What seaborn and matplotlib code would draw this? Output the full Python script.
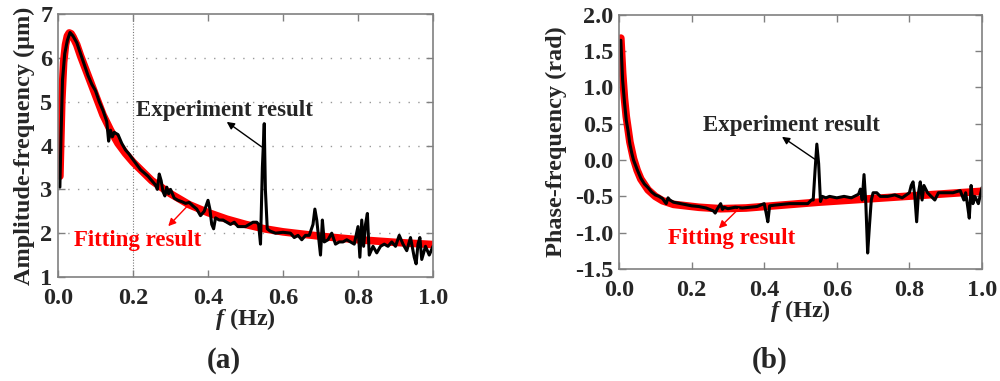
import matplotlib
matplotlib.use("Agg")
import matplotlib.pyplot as plt
import numpy as np
import pandas as pd
import seaborn as sns

# ---- panel (a): amplitude-frequency ----
amp_fit_f = [0.005, 0.01, 0.015, 0.02, 0.025, 0.03, 0.035, 0.04, 0.05, 0.06, 0.08,
             0.1, 0.12, 0.14, 0.16, 0.18, 0.2, 0.25, 0.3, 0.35, 0.4, 0.45, 0.5,
             0.55, 0.6, 0.7, 0.8, 0.9, 1.0]
amp_fit = [3.3, 5.0, 5.9, 6.3, 6.5, 6.57, 6.55, 6.48, 6.3, 6.05, 5.6,
           5.15, 4.7, 4.35, 4.05, 3.82, 3.62, 3.2, 2.9, 2.65, 2.47, 2.32, 2.2,
           2.1, 2.03, 1.93, 1.85, 1.79, 1.74]

amp_exp_f = [0.005, 0.008, 0.012, 0.018, 0.025, 0.032, 0.04, 0.05, 0.06, 0.07, 0.08,
             0.09, 0.1, 0.11, 0.12, 0.13, 0.135, 0.14, 0.145, 0.15, 0.16, 0.17,
             0.18, 0.19, 0.2, 0.22, 0.24, 0.26, 0.265, 0.27, 0.275, 0.28, 0.285,
             0.29, 0.295, 0.3, 0.31, 0.32, 0.33, 0.34, 0.35, 0.36, 0.37, 0.38,
             0.39, 0.4, 0.405, 0.41, 0.415, 0.42, 0.43, 0.44, 0.45, 0.46, 0.47,
             0.48, 0.49, 0.5, 0.51, 0.52, 0.53, 0.535, 0.54, 0.545, 0.55, 0.553,
             0.558, 0.565, 0.58, 0.6, 0.62, 0.63, 0.64, 0.65, 0.66, 0.67, 0.68,
             0.685, 0.69, 0.695, 0.7, 0.705, 0.71, 0.72, 0.73, 0.74, 0.75, 0.76,
             0.77, 0.78, 0.79, 0.8, 0.805, 0.81, 0.815, 0.82, 0.825, 0.83, 0.84,
             0.85, 0.86, 0.87, 0.88, 0.89, 0.9, 0.91, 0.92, 0.93, 0.94, 0.95,
             0.955, 0.96, 0.965, 0.97, 0.98, 0.99, 1.0]
amp_exp = [3.05, 4.2, 5.5, 6.1, 6.4, 6.58, 6.5, 6.35, 6.1, 5.85, 5.6,
           5.4, 5.25, 5.0, 4.8, 4.55, 4.1, 4.35, 4.2, 4.3, 4.25, 4.05,
           3.9, 3.8, 3.68, 3.45, 3.3, 3.1, 3.0, 3.35, 3.2, 2.95, 2.85,
           3.05, 2.9, 3.0, 2.8, 2.75, 2.72, 2.68, 2.7, 2.62, 2.55, 2.4,
           2.5, 2.75, 2.55, 2.2, 2.1, 2.35, 2.3, 2.3, 2.25, 2.2, 2.25,
           2.15, 2.15, 2.15, 2.2, 2.25, 2.25, 2.2, 1.75, 3.5, 4.5, 3.0,
           2.1, 2.05, 2.0, 2.02, 2.0, 1.9, 1.95, 1.85, 1.95, 1.95, 2.2,
           2.55, 2.3, 1.9, 1.5, 2.3, 1.8, 1.85, 2.0, 1.75, 1.8, 1.8,
           1.85, 1.8, 1.75, 2.15, 1.45, 2.3, 1.7, 2.2, 2.45, 1.5, 1.7,
           1.55, 1.7, 1.75, 1.7, 1.8, 1.7, 1.95, 1.75, 1.6, 1.9, 1.45,
           1.3, 1.75, 1.9, 1.4, 1.7, 1.5, 1.7]

# ---- panel (b): phase-frequency ----
ph_fit_f = [0.005, 0.01, 0.015, 0.02, 0.03, 0.04, 0.05, 0.06, 0.08, 0.1, 0.12,
            0.15, 0.22, 0.28, 0.35, 0.45, 0.55, 0.7, 0.85, 1.0]
ph_fit = [1.68, 1.2, 0.85, 0.6, 0.25, 0.02, -0.14, -0.26, -0.41, -0.5, -0.56,
          -0.61, -0.65, -0.67, -0.66, -0.62, -0.58, -0.53, -0.48, -0.43]

ph_exp_f = [0.005, 0.01, 0.015, 0.02, 0.025, 0.03, 0.035, 0.04, 0.05, 0.06, 0.07,
            0.08, 0.09, 0.1, 0.11, 0.12, 0.13, 0.135, 0.14, 0.15, 0.17, 0.2,
            0.22, 0.24, 0.26, 0.265, 0.27, 0.28, 0.285, 0.29, 0.3, 0.32, 0.34,
            0.36, 0.38, 0.4, 0.405, 0.41, 0.415, 0.43, 0.45, 0.47, 0.5, 0.52,
            0.53, 0.535, 0.54, 0.545, 0.55, 0.555, 0.56, 0.57, 0.58, 0.6, 0.62,
            0.64, 0.66, 0.665, 0.67, 0.675, 0.68, 0.685, 0.69, 0.695, 0.7, 0.71,
            0.72, 0.74, 0.76, 0.78, 0.8, 0.805, 0.81, 0.815, 0.82, 0.825, 0.83,
            0.835, 0.84, 0.85, 0.86, 0.87, 0.88, 0.9, 0.92, 0.94, 0.95, 0.955,
            0.96, 0.965, 0.97, 0.975, 0.98, 0.99, 1.0]
ph_exp = [1.65, 1.1, 0.8, 0.55, 0.4, 0.22, 0.1, 0.0, -0.13, -0.25, -0.33,
          -0.38, -0.44, -0.48, -0.5, -0.53, -0.6, -0.52, -0.55, -0.58, -0.6, -0.63,
          -0.64, -0.66, -0.7, -0.73, -0.68, -0.6, -0.68, -0.65, -0.67, -0.65, -0.66,
          -0.65, -0.64, -0.6, -0.72, -0.85, -0.63, -0.62, -0.61, -0.6, -0.6, -0.6,
          -0.55, -0.55, -0.15, 0.22, -0.05, -0.57, -0.5, -0.52, -0.5, -0.52, -0.5,
          -0.52, -0.47, -0.4, -0.55, -0.2, -0.6, -1.28, -0.9, -0.55, -0.45, -0.45,
          -0.5, -0.5, -0.48, -0.52, -0.45, -0.35, -0.3, -0.5, -0.85, -0.45, -0.3,
          -0.55, -0.35, -0.45, -0.5, -0.55, -0.45, -0.45, -0.45, -0.42, -0.55, -0.45,
          -0.62, -0.8, -0.35, -0.6, -0.5, -0.6, -0.38]

sns.set_style("ticks")
plt.rcParams["font.family"] = ["Liberation Serif", "DejaVu Serif"]
plt.rcParams["font.weight"] = "bold"
plt.rcParams["mathtext.fontset"] = "custom"
plt.rcParams["mathtext.it"] = "Liberation Serif:italic:bold"
plt.rcParams["mathtext.rm"] = "Liberation Serif:bold"

GRAY = "#808080"
LAB = 17.5   # axis label / tick size
ANN = 16.5   # annotation size
fig = plt.figure(figsize=(10, 3.81), dpi=100)
ax_a = fig.add_axes([0.058, 0.273, 0.375, 0.690])
ax_b = fig.add_axes([0.619, 0.294, 0.363, 0.667])


def style_axes(ax):
    for sp in ax.spines.values():
        sp.set_color(GRAY)
        sp.set_linewidth(1.2)
    ax.tick_params(direction="in", top=True, right=True, length=5, width=1,
                   color=GRAY, labelsize=LAB)
    ax.tick_params(axis="x", pad=8)
    ax.tick_params(axis="y", pad=4)
    for lab in ax.get_xticklabels() + ax.get_yticklabels():
        lab.set_fontweight("bold")
    ax.set_xlabel(r"$f$ (Hz)", fontsize=LAB, fontweight="bold", labelpad=-2)


def arrow(ax, tip, tail, color):
    ax.annotate("", xy=tip, xytext=tail,
                arrowprops=dict(arrowstyle="-|>", color=color, lw=1, shrinkA=0,
                                shrinkB=0, mutation_scale=11))


# panel (a)
df_fit_a = pd.DataFrame({"f": amp_fit_f, "v": amp_fit})
df_exp_a = pd.DataFrame({"f": amp_exp_f, "v": amp_exp})
for y in [2, 3, 4, 5, 6]:
    ax_a.axhline(y, color="#999999", lw=1, ls=(0, (1, 6)), zorder=0)
ax_a.axvline(0.2, color="#777777", lw=0.8, ls=(0, (1, 1.5)), zorder=0)
sns.lineplot(data=df_fit_a, x="f", y="v", ax=ax_a, color="red", lw=5.5,
             sort=False, estimator=None)
sns.lineplot(data=df_exp_a, x="f", y="v", ax=ax_a, color="black", lw=2.2,
             sort=False, estimator=None)
ax_a.set_xlim(0, 1.0)
ax_a.set_ylim(1, 7)
ax_a.set_xticks([0.0, 0.2, 0.4, 0.6, 0.8, 1.0])
ax_a.set_xticklabels(["0.0", "0.2", "0.4", "0.6", "0.8", "1.0"])
ax_a.set_yticks([1, 2, 3, 4, 5, 6, 7])
style_axes(ax_a)
ax_a.set_ylabel("Amplitude-frequency (\u03bcm)", fontsize=LAB, fontweight="bold",
                labelpad=4)
ax_a.text(0.445, 4.81, "Experiment result", fontsize=ANN, fontweight="bold",
          ha="center", va="center")
arrow(ax_a, (0.45, 4.54), (0.543, 3.97), "black")
ax_a.text(0.213, 1.84, "Fitting result", color="red", fontsize=ANN,
          fontweight="bold", ha="center", va="center")
arrow(ax_a, (0.294, 2.16), (0.343, 2.6), "red")

# panel (b)
df_fit_b = pd.DataFrame({"f": ph_fit_f, "v": ph_fit})
df_exp_b = pd.DataFrame({"f": ph_exp_f, "v": ph_exp})
sns.lineplot(data=df_fit_b, x="f", y="v", ax=ax_b, color="red", lw=5.5,
             sort=False, estimator=None)
sns.lineplot(data=df_exp_b, x="f", y="v", ax=ax_b, color="black", lw=2.2,
             sort=False, estimator=None)
ax_b.set_xlim(0, 1.0)
ax_b.set_ylim(-1.5, 2.0)
ax_b.set_xticks([0.0, 0.2, 0.4, 0.6, 0.8, 1.0])
ax_b.set_xticklabels(["0.0", "0.2", "0.4", "0.6", "0.8", "1.0"])
ax_b.set_yticks([-1.5, -1.0, -0.5, 0.0, 0.5, 1.0, 1.5, 2.0])
ax_b.set_yticklabels(["-1.5", "-1.0", "-0.5", "0.0", "0.5", "1.0", "1.5", "2.0"])
style_axes(ax_b)
ax_b.set_ylabel("Phase-frequency (rad)", fontsize=LAB, fontweight="bold",
                labelpad=6)
ax_b.text(0.474, 0.47, "Experiment result", fontsize=ANN, fontweight="bold",
          ha="center", va="center")
arrow(ax_b, (0.449, 0.32), (0.543, 0.0), "black")
ax_b.text(0.311, -1.08, "Fitting result", color="red", fontsize=ANN,
          fontweight="bold", ha="center", va="center")
arrow(ax_b, (0.275, -0.94), (0.33, -0.67), "red")

fig.text(0.224, 0.055, "(a)", fontsize=21, fontweight="bold", ha="center",
         va="center")
fig.text(0.77, 0.055, "(b)", fontsize=21, fontweight="bold", ha="center",
         va="center")

fig.savefig("out.png", dpi=100)
